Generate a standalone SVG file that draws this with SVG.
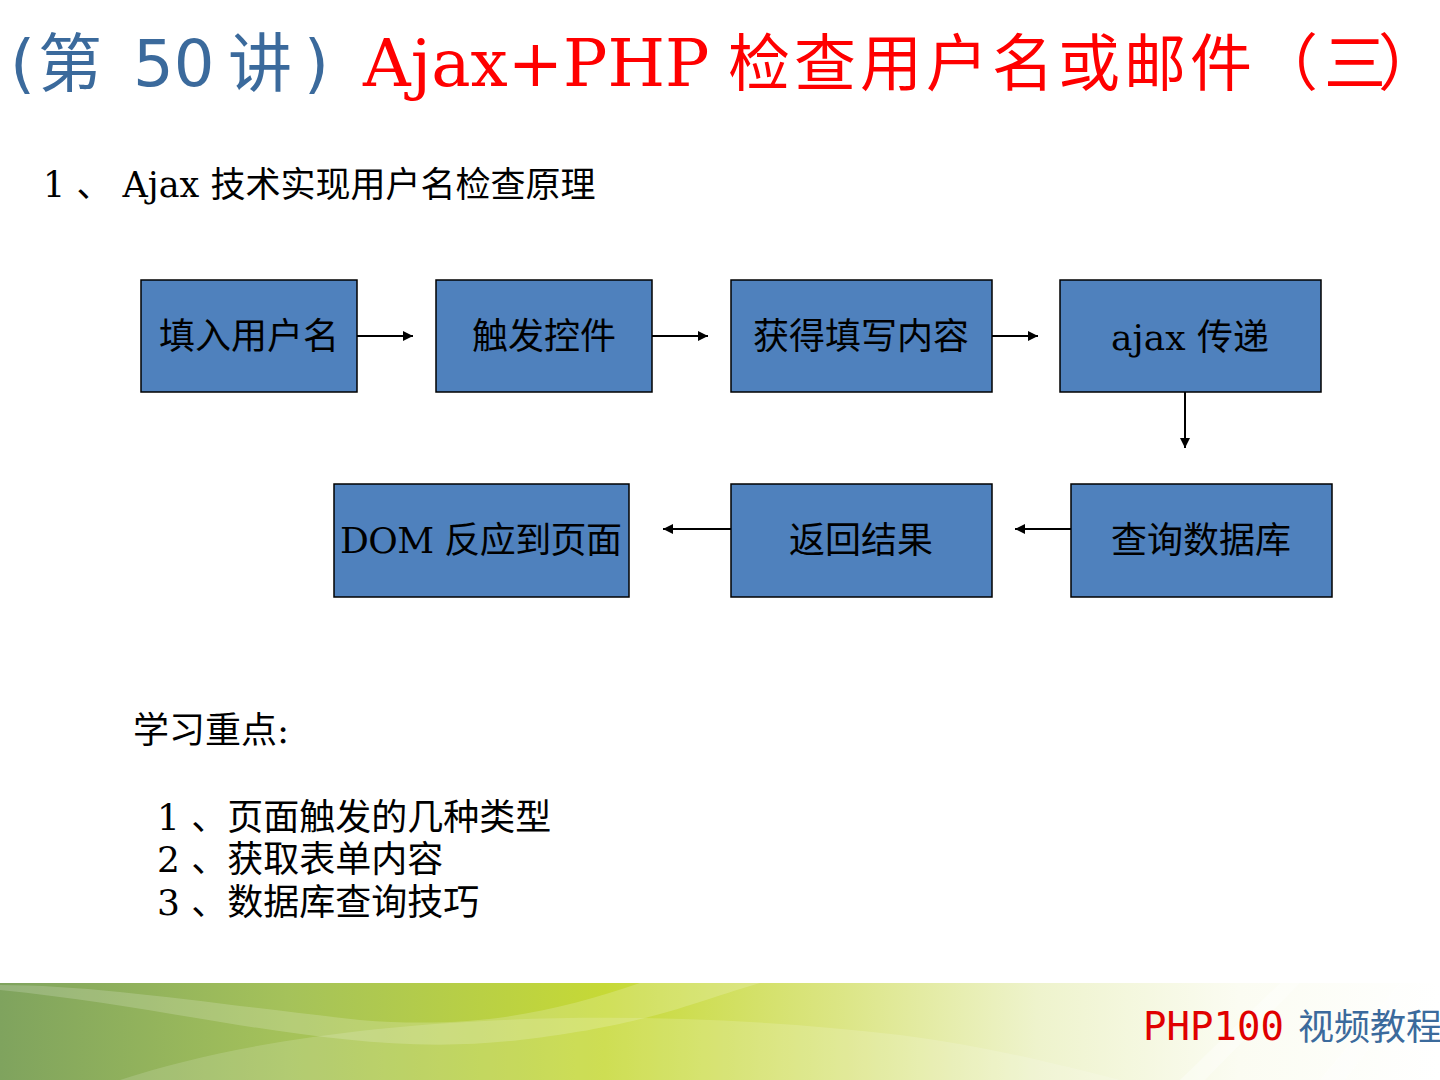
<svg xmlns="http://www.w3.org/2000/svg" width="1440" height="1080" viewBox="0 0 1440 1080">
<style>
.box{fill:#4f81bd;stroke:#000;stroke-width:1.5}
.bt{font-family:"DejaVu Serif","Noto Sans CJK SC",serif;font-size:36px;fill:#000;text-anchor:middle}
.body{font-family:"DejaVu Serif","Noto Sans CJK SC",serif;font-size:35px;fill:#000}
.notes{font-family:"DejaVu Serif","Noto Sans CJK SC",serif;font-size:36px;fill:#000}
.con{stroke:#000;stroke-width:2;fill:none;marker-end:url(#ah)}
.tb{font-family:"DejaVu Sans","Noto Sans CJK SC",sans-serif;fill:#3b6a9c}
.tr{font-family:"DejaVu Serif","Noto Sans CJK SC",serif;fill:#ff0000}
</style>
<defs>
<marker id="ah" viewBox="0 0 10 10" refX="10" refY="5" markerWidth="11" markerHeight="10" markerUnits="userSpaceOnUse" orient="auto">
<path d="M0,0 L10,5 L0,10 z" fill="#000"/>
</marker>
<linearGradient id="band" x1="0" y1="0" x2="1" y2="0">
<stop offset="0" stop-color="#7fa35e"/>
<stop offset="0.2" stop-color="#a5c25a"/>
<stop offset="0.42" stop-color="#c6d936"/>
<stop offset="0.58" stop-color="#dbe583"/>
<stop offset="0.72" stop-color="#eef3cc"/>
<stop offset="0.86" stop-color="#fbfcf2"/>
<stop offset="1" stop-color="#ffffff"/>
</linearGradient>
</defs>
<rect width="1440" height="1080" fill="#fff"/>

<g id="title">
<text class="tb" x="10" y="86" font-size="64">(</text>
<text class="tb" x="38" y="86" font-size="64">第</text>
<text class="tb" x="133" y="86" font-size="64">50</text>
<text class="tb" x="228" y="86" font-size="64">讲</text>
<text class="tb" x="304" y="86" font-size="64">)</text>
<text class="tr" x="363" y="86" font-size="66">Ajax+PHP</text>
<text class="tr" y="86" font-size="62" x="728 794 860 926 992 1058 1124 1190">检查用户名或邮件</text>
<text class="tr" y="86" font-size="62" x="1256 1324 1378">（三）</text>
</g>
<text id="subtitle" class="body" x="43" y="197">1 、 Ajax 技术实现用户名检查原理</text>

<g id="connectors">
<line class="con" x1="357" y1="336" x2="413" y2="336"/>
<line class="con" x1="652" y1="336" x2="708" y2="336"/>
<line class="con" x1="992" y1="336" x2="1038" y2="336"/>
<line class="con" x1="1185" y1="392" x2="1185" y2="448"/>
<line class="con" x1="1071" y1="529" x2="1015" y2="529"/>
<line class="con" x1="731" y1="529" x2="663" y2="529"/>
</g>

<g id="n1"><rect class="box" x="141" y="280" width="216" height="112"/><text class="bt" x="249" y="349">填入用户名</text></g>
<g id="n2"><rect class="box" x="436" y="280" width="216" height="112"/><text class="bt" x="544" y="349">触发控件</text></g>
<g id="n3"><rect class="box" x="731" y="280" width="261" height="112"/><text class="bt" x="861" y="349">获得填写内容</text></g>
<g id="n4"><rect class="box" x="1060" y="280" width="261" height="112"/><text class="bt" x="1190" y="350">ajax 传递</text></g>
<g id="n5"><rect class="box" x="1071" y="484" width="261" height="113"/><text class="bt" x="1201" y="553">查询数据库</text></g>
<g id="n6"><rect class="box" x="731" y="484" width="261" height="113"/><text class="bt" x="861" y="553">返回结果</text></g>
<g id="n7"><rect class="box" x="334" y="484" width="295" height="113"/><text class="bt" x="481" y="553" textLength="282">DOM 反应到页面</text></g>

<g id="notes">
<text class="notes" x="133" y="743">学习重点:</text>
<text class="notes" x="157" y="830">1 、页面触发的几种类型</text>
<text class="notes" x="157" y="872">2 、获取表单内容</text>
<text class="notes" x="157" y="915">3 、数据库查询技巧</text>
</g>

<g id="footer">
<rect x="0" y="983" width="1440" height="97" fill="url(#band)"/>
<path d="M0,990 C200,1010 350,1060 520,1040 C650,1025 700,1000 760,983 L640,983 C560,1010 480,1030 360,1020 C220,1005 100,985 0,985 z" fill="#ffffff" opacity="0.18"/>
<path d="M120,1080 C300,1020 600,1000 900,1035 C1000,1048 1080,1070 1120,1080 z" fill="#ffffff" opacity="0.15"/>
<path d="M1180,1080 L1280,983 L1300,983 L1205,1080 z" fill="#ffffff" opacity="0.35"/>
<path d="M1320,1080 L1400,983 L1420,983 L1345,1080 z" fill="#ffffff" opacity="0.3"/>
<text x="1143" y="1040" font-family="'DejaVu Sans Mono',monospace" font-size="39" fill="#e00000">PHP100</text>
<text x="1298" y="1040" font-family="'Noto Sans CJK SC',sans-serif" font-size="36" fill="#3b6a9c">视频教程</text>
</g>
</svg>
